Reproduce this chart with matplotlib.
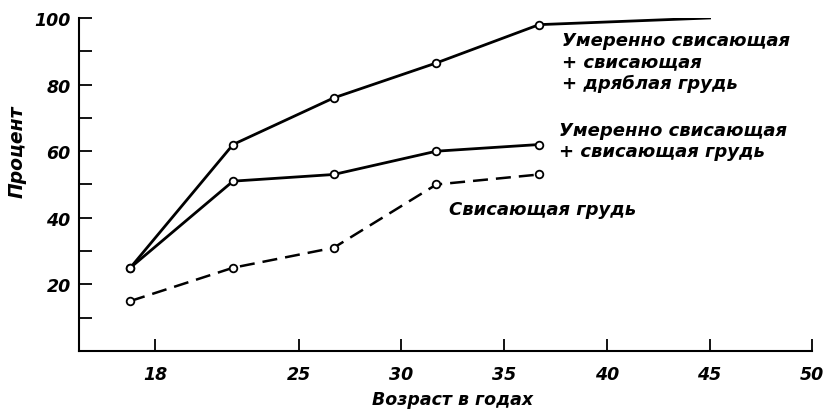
import matplotlib.pyplot as plt

# ages (midpoints of the age groups) and percentages
ages = [16.8, 21.8, 26.7, 31.7, 36.7]
total = [25, 62, 76, 86.5, 98]
total_tail_age = [36.7, 45]
total_tail = [98, 100]
moderate = [25, 51, 53, 60, 62]
sagging = [15, 25, 31, 50, 53]

x_ticks = [18, 25, 30, 35, 40, 45, 50]
y_ticks = [20, 40, 60, 80, 100]
y_minor = [10, 30, 50, 70, 90]

label_total = 'Умеренно свисающая\n+ свисающая\n+ дряблая грудь'
label_moderate = 'Умеренно свисающая\n+ свисающая грудь'
label_sagging = 'Свисающая грудь'

FONT = dict(family=['DejaVu Sans'], weight='bold', style='italic')


def main():
    fig = plt.figure(figsize=(8.28, 4.10), dpi=100)
    ax = fig.add_axes([0.0954, 0.1415, 0.8856, 0.8122])

    mk = dict(marker='o', markersize=5.5, markerfacecolor='white',
              markeredgecolor='black', markeredgewidth=1.3, color='black')

    ax.plot(total_tail_age, total_tail, color='black', lw=2)
    ax.plot(ages, total, lw=2, **mk)
    ax.plot(ages, moderate, lw=2, **mk)
    ax.plot(ages, sagging, lw=1.8, dashes=(6, 3.2), **mk)

    ax.set_xlim(14.3, 50)
    ax.set_ylim(0, 100)
    ax.set_xticks(x_ticks)
    ax.set_yticks(y_ticks)
    ax.set_yticks(y_minor, minor=True)
    ax.tick_params(axis='both', which='both', direction='in', length=9, width=1.3, pad=6)
    ax.tick_params(axis='x', pad=10)
    ax.set_xticklabels([str(t) for t in x_ticks], fontsize=12.5, **FONT)
    ax.set_yticklabels([str(t) for t in y_ticks], fontsize=12.5, **FONT)

    for s in ['top', 'right']:
        ax.spines[s].set_visible(False)
    for s in ['left', 'bottom']:
        ax.spines[s].set_linewidth(1.5)

    ax.set_ylabel('Процент', fontsize=13.5, **FONT)
    ax.yaxis.set_label_coords(-0.071, 0.6)
    ax.set_xlabel('Возраст в годах', fontsize=12.5, **FONT)
    ax.xaxis.set_label_coords(0.509, -0.118)

    ax.text(37.8, 96, label_total, fontsize=13, va='top', ha='left',
            linespacing=1.22, **FONT)
    ax.text(37.65, 69, label_moderate, fontsize=13, va='top', ha='left',
            linespacing=1.2, **FONT)
    ax.text(32.3, 42.5, label_sagging, fontsize=13, va='center', ha='left', **FONT)

    fig.savefig('out.png', dpi=100)


if __name__ == '__main__':
    main()
